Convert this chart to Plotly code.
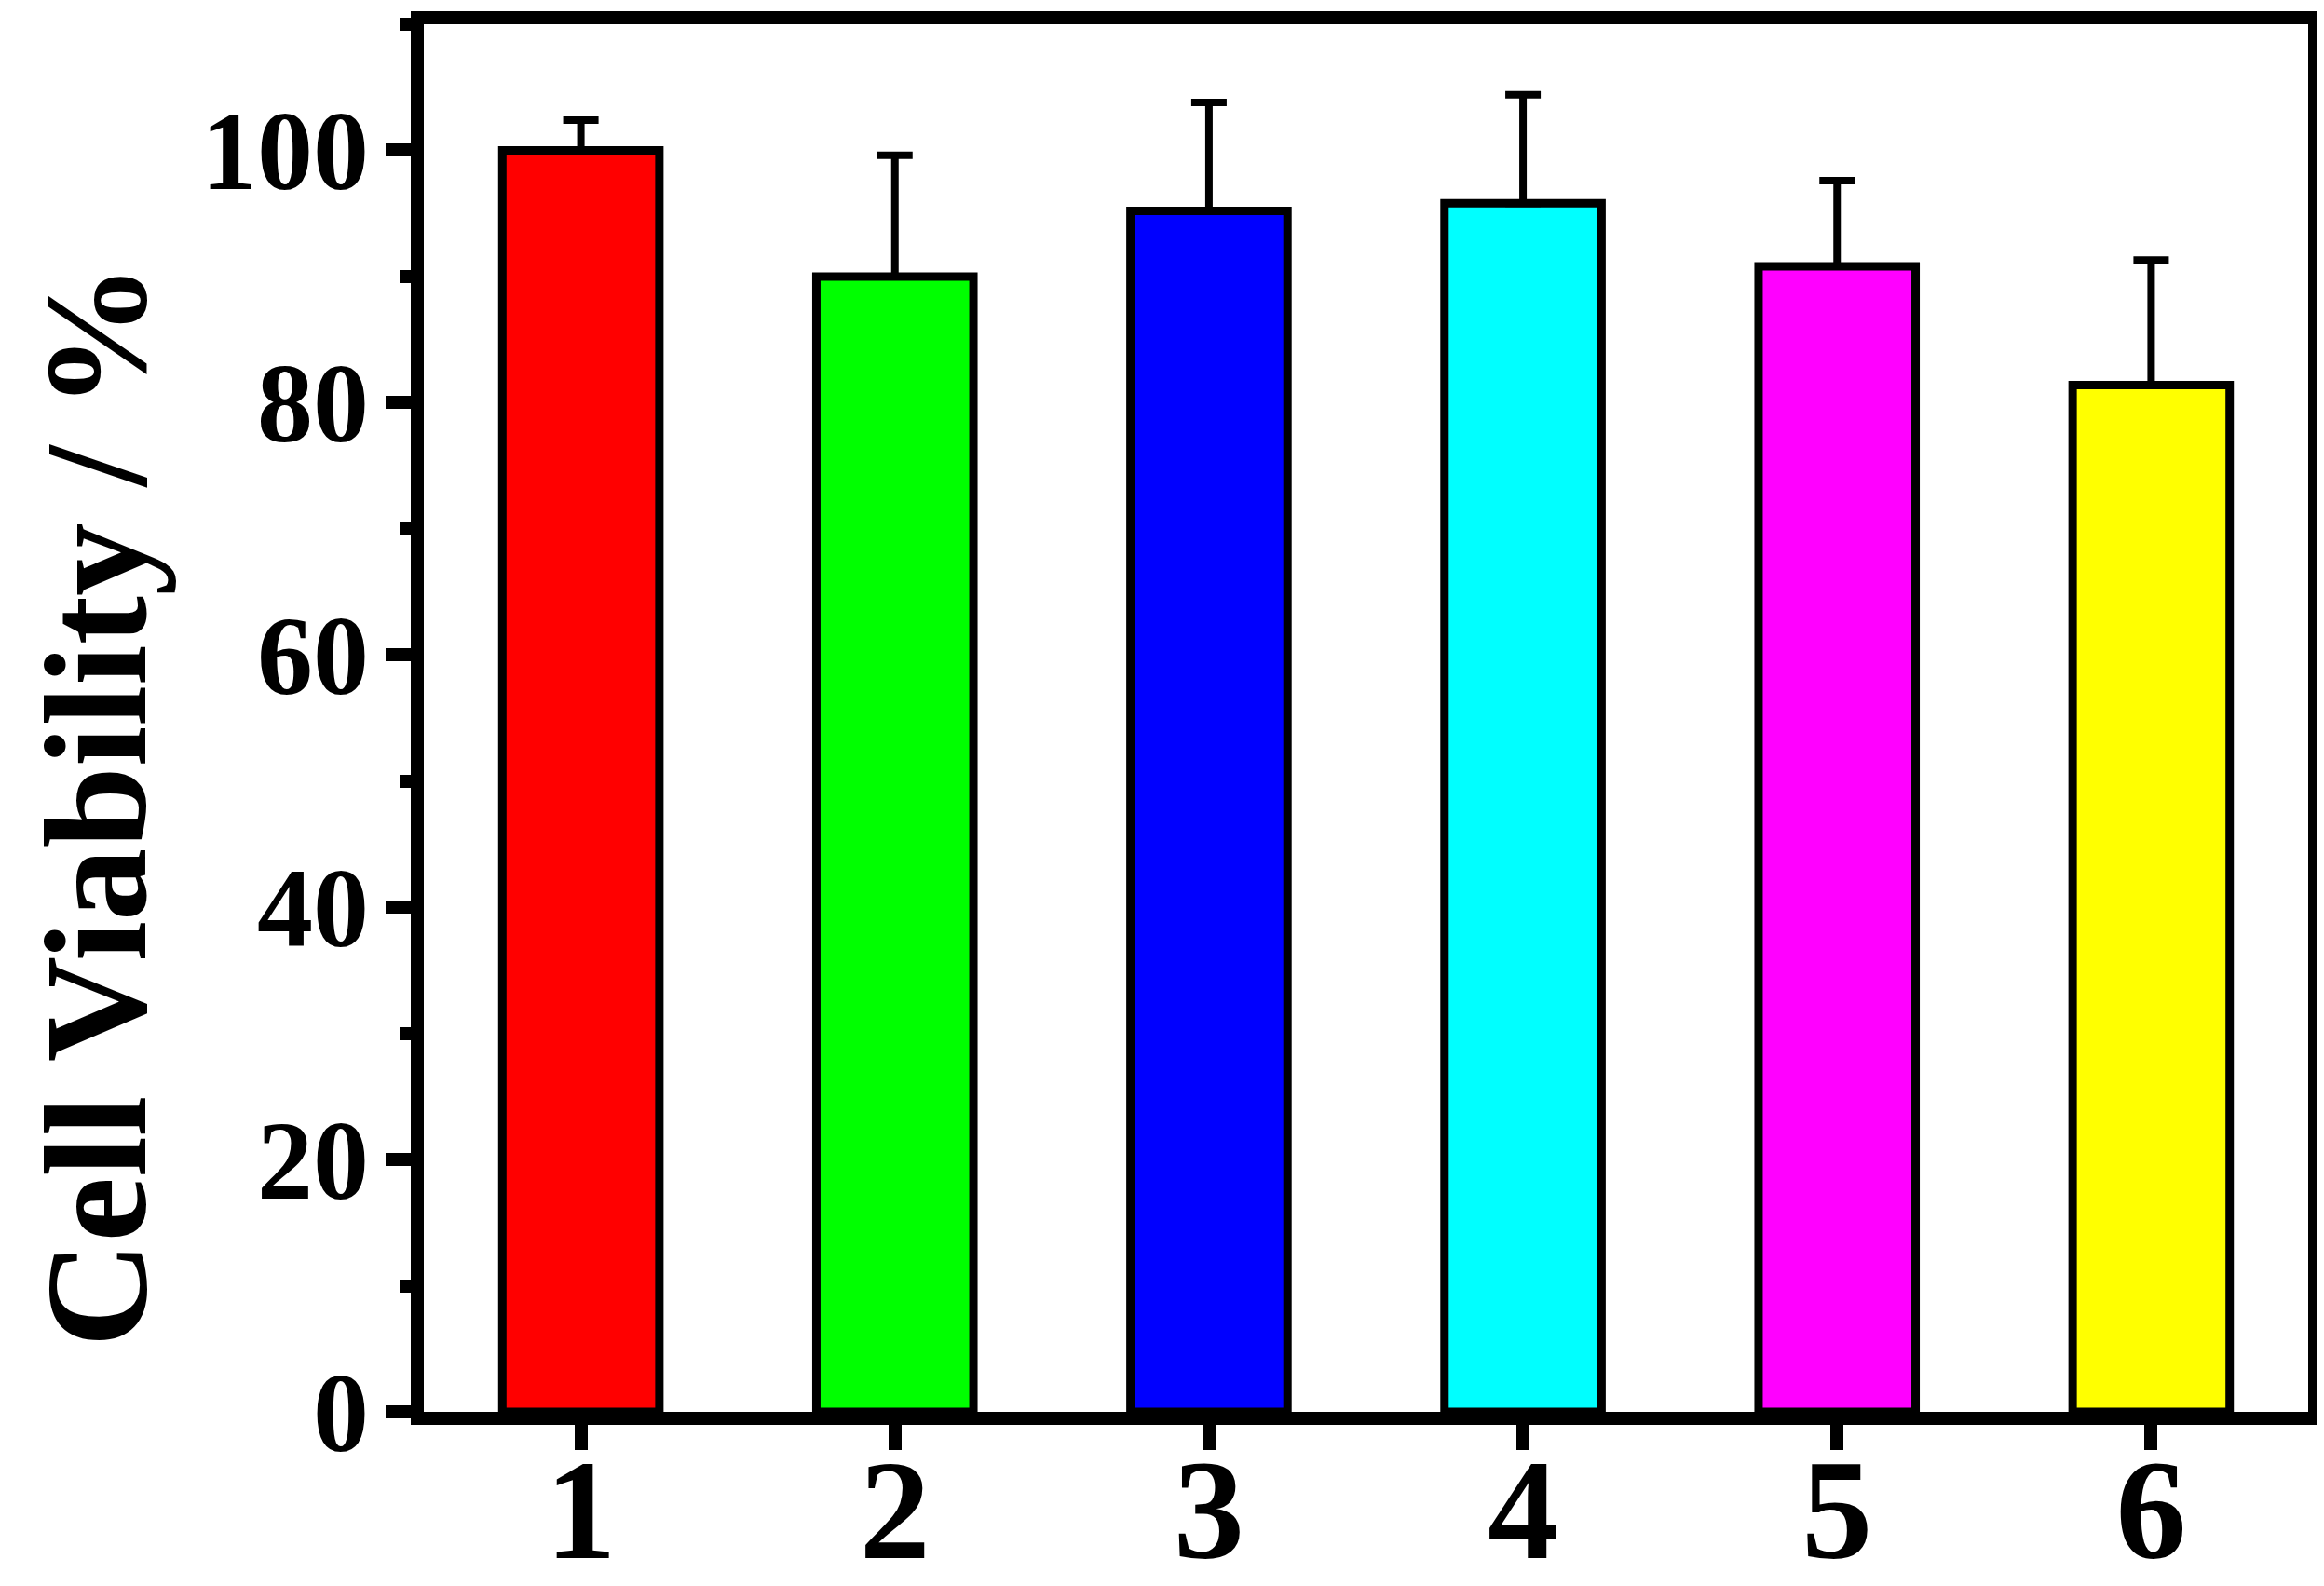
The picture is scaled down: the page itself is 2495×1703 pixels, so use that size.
"""Cell viability bar chart with upward error bars"""

import plotly.graph_objects as go

groups = ["1", "2", "3", "4", "5", "6"]
group_pos = [1, 2, 3, 4, 5, 6]
viability = [100.0, 90.0, 95.2, 95.8, 90.8, 81.4]
viability_err = [2.4, 9.6, 8.6, 8.6, 6.8, 9.9]
bar_colors = ["#FF0000", "#00FF00", "#0000FF", "#00FFFF", "#FF00FF", "#FFFF00"]

y_ticks = [0, 20, 40, 60, 80, 100]

FONT = "Liberation Serif"
LINE_W = 14

fig = go.Figure()

fig.add_trace(
    go.Bar(
        x=group_pos,
        y=viability,
        width=0.5,
        marker=dict(color=bar_colors, line=dict(color="black", width=9)),
        error_y=dict(
            type="data",
            symmetric=False,
            array=viability_err,
            arrayminus=[0] * len(viability_err),
            color="black",
            thickness=8,
            width=19,
        ),
    )
)

fig.update_layout(
    width=2495,
    height=1703,
    margin=dict(l=447, r=25, t=18, b=195, autoexpand=False),
    paper_bgcolor="white",
    plot_bgcolor="white",
    showlegend=False,
    font=dict(family=FONT, color="black"),
    xaxis=dict(
        range=[0.5, 6.5],
        tickmode="array",
        tickvals=group_pos,
        ticktext=groups,
        ticks="outside",
        ticklen=27,
        tickwidth=LINE_W,
        tickcolor="black",
        tickfont=dict(family=FONT, size=152, color="black", weight="bold"),
        ticklabelstandoff=-66,
        showline=True,
        linewidth=LINE_W,
        linecolor="black",
        mirror=True,
        showgrid=False,
        zeroline=False,
        automargin=False,
    ),
    yaxis=dict(
        range=[0, 110],
        tickmode="array",
        tickvals=y_ticks,
        ticks="outside",
        ticklen=27,
        tickwidth=LINE_W,
        tickcolor="black",
        tickfont=dict(family=FONT, size=120, color="black", weight="bold"),
        ticklabelstandoff=-6,
        minor=dict(
            tickmode="linear",
            tick0=10,
            dtick=20,
            ticks="outside",
            ticklen=12,
            tickwidth=LINE_W,
            tickcolor="black",
            showgrid=False,
        ),
        showline=True,
        linewidth=LINE_W,
        linecolor="black",
        mirror=True,
        showgrid=False,
        zeroline=False,
        automargin=False,
    ),
    annotations=[
        dict(
            text="<b>Cell Viability / %</b>",
            textangle=-90,
            xref="paper",
            yref="paper",
            x=-0.174,
            y=0.437,
            xanchor="center",
            yanchor="middle",
            showarrow=False,
            font=dict(family=FONT, size=157, color="black"),
        )
    ],
)

fig.write_html("out.html")
